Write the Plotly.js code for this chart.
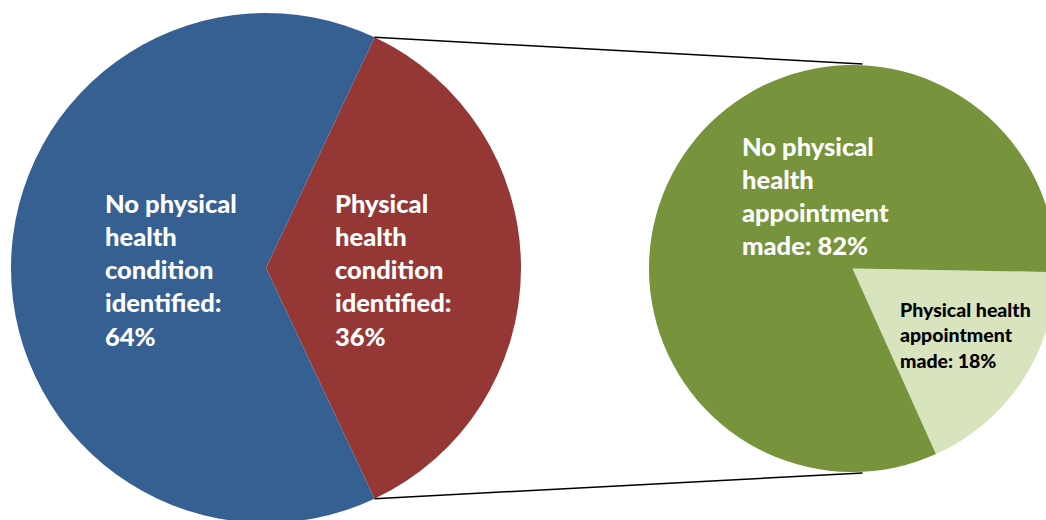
<!DOCTYPE html>
<html>
<head>
<meta charset="utf-8">
<script src="https://cdn.plot.ly/plotly-3.0.1.min.js"></script>
<style>
  html, body { margin: 0; padding: 0; overflow: hidden; background: #fff; }
  #chart { width: 1080px; height: 540px; }
</style>
</head>
<body>
<div id="chart"></div>
<script>
// ---- data ----
const mainLabels = ["Physical health condition identified", "No physical health condition identified"];
const mainValues = [36, 64];
const subLabels = ["Physical health appointment made", "No physical health appointment made"];
const subValues = [18, 82];
const mainText = ["Physical<br>health<br>condition<br>identified:<br>36%", "No physical<br>health<br>condition<br>identified:<br>64%"];
const subText = ["Physical health<br>appointment<br>made: 18%", "No physical<br>health<br>appointment<br>made: 82%"];

// ---- geometry (pixels) ----
const W = 1080, H = 540;
const L = {cx: 266, cy: 268, r: 255};
const R = {cx: 852.5, cy: 268.5, r: 203.5};
const px = x => x / W;
const py = y => 1 - y / H;

const mainColors = ["#953735", "#376092"];
const subColors = ["#D7E4BD", "#77933C"];

const mainTotal = mainValues[0] + mainValues[1];
const halfAngle = mainValues[0] / mainTotal * 180; // degrees above/below horizontal
const mainRotation = 90 - halfAngle;

const traces = [
  {
    type: "pie",
    labels: mainLabels,
    values: mainValues,
    sort: false,
    direction: "clockwise",
    rotation: mainRotation,
    textinfo: "none",
    hoverinfo: "skip",
    marker: {colors: mainColors, line: {width: 0}},
    domain: {x: [px(L.cx - L.r), px(L.cx + L.r)], y: [py(L.cy + L.r), py(L.cy - L.r)]},
    showlegend: false
  },
  {
    type: "pie",
    labels: subLabels,
    values: subValues,
    sort: false,
    direction: "clockwise",
    rotation: 91,
    textinfo: "none",
    hoverinfo: "skip",
    marker: {colors: subColors, line: {width: 0}},
    domain: {x: [px(R.cx - R.r), px(R.cx + R.r)], y: [py(R.cy + R.r), py(R.cy - R.r)]},
    showlegend: false
  }
];

const a = halfAngle * Math.PI / 180;
const topPt = {x: L.cx + L.r * Math.cos(a), y: L.cy - L.r * Math.sin(a)};
const botPt = {x: L.cx + L.r * Math.cos(a), y: L.cy + L.r * Math.sin(a)};
const rTop = {x: R.cx + 10, y: R.cy - R.r - 1};
const rBot = {x: R.cx + 10, y: R.cy + R.r + 1};

const lineStyle = {color: "#000000", width: 1.5};
const shapes = [
  {type: "line", xref: "paper", yref: "paper", x0: px(topPt.x), y0: py(topPt.y), x1: px(rTop.x), y1: py(rTop.y), line: lineStyle},
  {type: "line", xref: "paper", yref: "paper", x0: px(botPt.x), y0: py(botPt.y), x1: px(rBot.x), y1: py(rBot.y), line: lineStyle}
];

const bigFont = {family: "Lato, 'Open Sans', sans-serif", size: 25.5, color: "#ffffff", weight: 900};
const smallFont = {family: "Lato, 'Open Sans', sans-serif", size: 19.5, color: "#000000", weight: 900};

const ann = (text, x, y, font) => ({
  text: text, xref: "paper", yref: "paper", x: px(x), y: py(y),
  xanchor: "left", yanchor: "middle", align: "left", showarrow: false, font: font
});

const annotations = [
  ann(mainText[1], 103, 269, bigFont),
  ann(mainText[0], 333, 269, bigFont),
  ann(subText[1], 740, 196, bigFont),
  ann(subText[0], 898, 335, smallFont)
];

const layout = {
  width: W, height: H,
  margin: {l: 0, r: 0, t: 0, b: 0, pad: 0},
  paper_bgcolor: "#ffffff",
  plot_bgcolor: "#ffffff",
  shapes: shapes,
  annotations: annotations,
  showlegend: false
};

Plotly.newPlot("chart", traces, layout, {displayModeBar: false, staticPlot: true});
</script>
</body>
</html>
